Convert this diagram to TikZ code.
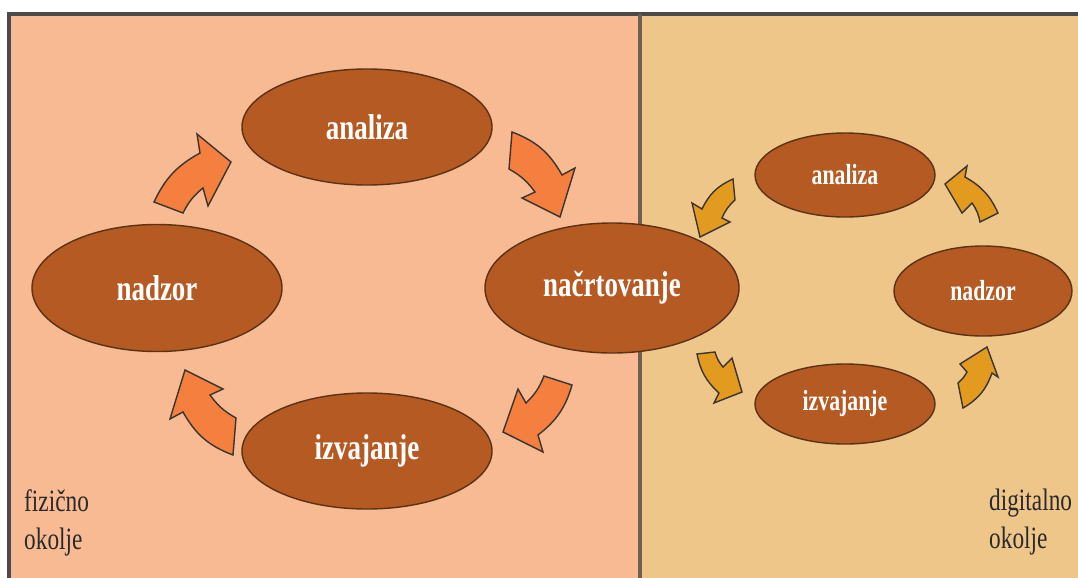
\documentclass[tikz,border=0pt]{standalone}
\usepackage{fontspec}
\setmainfont{Liberation Serif}
\newfontfamily\condf{Liberation Serif}[FakeStretch=0.75]
\usetikzlibrary{shapes.geometric}
\definecolor{leftbg}{HTML}{F7BA92}
\definecolor{rightbg}{HTML}{EFC68A}
\definecolor{ellfill}{HTML}{B45A22}
\definecolor{ellline}{HTML}{5A3218}
\definecolor{arrowL}{HTML}{F47F3F}
\definecolor{arrowR}{HTML}{E29B1E}
\definecolor{arrline}{HTML}{3A3530}
\definecolor{framec}{HTML}{4A4A4A}
\definecolor{dividerc}{HTML}{6E5F50}
\definecolor{labeltxt}{HTML}{2A2A2A}
\begin{document}
\begin{tikzpicture}[x=0.03cm,y=0.03cm,
  ell/.style={ellipse, draw=ellline, fill=ellfill, line width=1.2pt, inner sep=0pt, text=white},
  bigtxt/.style={font=\condf\bfseries\fontsize{30.7}{34}\selectfont},
  smalltxt/.style={font=\condf\bfseries\fontsize{24.8}{28}\selectfont},
  arrL/.style={draw=arrline, fill=arrowL, line width=1.2pt, line join=miter},
  arrR/.style={draw=arrline, fill=arrowR, line width=1.2pt, line join=miter},
  lbl/.style={font=\condf\fontsize{26.5}{32.4}\selectfont, text=labeltxt, align=left, inner sep=0pt},
  framel/.style={draw=framec, line width=2.6pt},
  dividerl/.style={draw=dividerc, line width=2.6pt}
]
\useasboundingbox (0,0) rectangle (1078,-577);
\begin{scope}
  \clip (0,0) rectangle (1078,-577);
  \fill[leftbg] (9,-14) rectangle (640,-600);
  \fill[rightbg] (640,-14) rectangle (1100,-600);
  \draw[framel] (9,-600) -- (9,-14) -- (1100,-14);
  \draw[dividerl] (640,-14) -- (640,-600);
\end{scope}

% left cycle ellipses
\node[ell, bigtxt, minimum width=7.5cm, minimum height=3.48cm] (anL) at (367,-127) {analiza};
\node[ell, bigtxt, minimum width=7.5cm, minimum height=3.81cm] (nadL) at (157,-288) {nadzor};
\node[ell, bigtxt, minimum width=7.62cm, minimum height=3.9cm] (nacrt) at (612,-288) {načrtovanje};
\node[ell, bigtxt, minimum width=7.5cm, minimum height=3.48cm] (izvL) at (367,-451) {izvajanje};
% right cycle ellipses
\node[ell, smalltxt, minimum width=5.4cm, minimum height=2.52cm] (anR) at (845,-175) {analiza};
\node[ell, smalltxt, minimum width=5.34cm, minimum height=2.7cm] (nadR) at (983,-291) {nadzor};
\node[ell, smalltxt, minimum width=5.4cm, minimum height=2.4cm] (izvR) at (845,-404) {izvajanje};

% left arrows (clockwise)
\draw[arrL] (154,-202) -- (183,-213) to[bend left=12] (203,-188) -- (208,-206) -- (231,-162) -- (197,-134) -- (200,-153) to[bend right=18] (154,-202) -- cycle;
\draw[arrL] (512,-132) -- (509,-169) to[bend left=12] (535,-192) -- (522,-198) -- (560,-217) -- (575,-168) -- (562,-175) to[bend right=20] (512,-132) -- cycle;
\draw[arrL] (572,-385) -- (544,-376) to[bend left=12] (526,-403) -- (518,-389) -- (503,-432) -- (543,-452) -- (538,-435) to[bend right=18] (572,-385) -- cycle;
\draw[arrL] (233,-455) -- (236,-418) to[bend left=12] (210,-395) -- (223,-389) -- (185,-370) -- (170,-419) -- (183,-412) to[bend right=20] (233,-455) -- cycle;

% right arrows (counter-clockwise)
\draw[arrR] (733,-179) -- (735,-200) to[bend right=12] (722,-218) -- (730,-222) -- (700,-237) -- (692,-203) -- (702,-209) to[bend left=20] (733,-179) -- cycle;
\draw[arrR] (998,-213) -- (980,-222) to[bend right=12] (972,-203) -- (962,-213) -- (945,-184) -- (967,-166) -- (965,-177) to[bend left=18] (998,-213) -- cycle;
\draw[arrR] (697,-354) -- (715,-352) to[bend right=12] (723,-367) -- (732,-358) -- (742,-392) -- (714,-403) -- (719,-393) to[bend left=18] (697,-354) -- cycle;
\draw[arrR] (963,-408) -- (958,-383) to[bend right=10] (967,-372) -- (960,-364) -- (987,-347) -- (998,-377) -- (992,-373) to[bend left=20] (963,-408) -- cycle;

% environment labels
\node[lbl, anchor=north west] (fiz) at (24,-489) {fizično\\okolje};
\node[lbl, anchor=north west] (dig) at (989,-489) {digitalno\\okolje};
\end{tikzpicture}
\end{document}
